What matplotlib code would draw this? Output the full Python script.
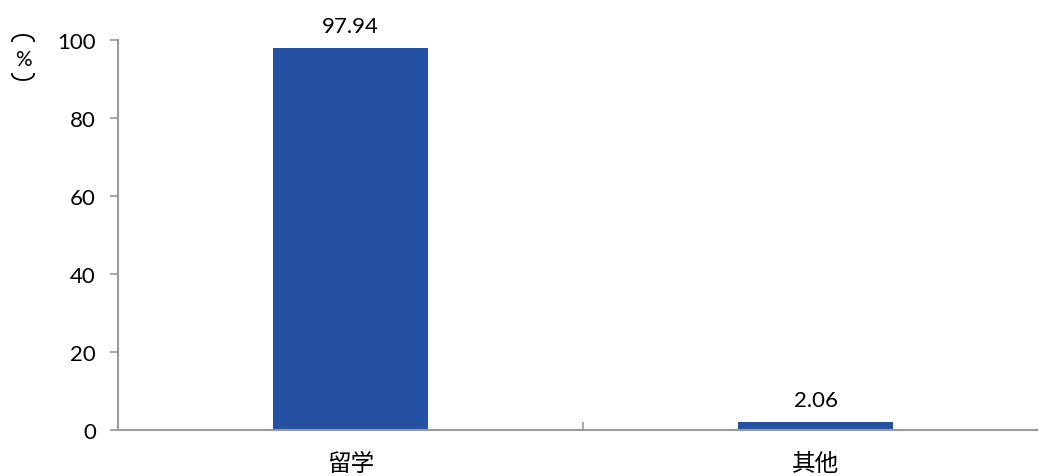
import numpy as np
import matplotlib.pyplot as plt
from matplotlib.lines import Line2D

plt.rcParams['font.family'] = ['Lato', 'Noto Sans CJK SC', 'DejaVu Sans']

categories = ['留学', '其他']
values = [97.94, 2.06]
labels = ['97.94', '2.06']
yticks = [0, 20, 40, 60, 80, 100]

bar_color = '#2451A1'
axis_color = '#9A9A9A'

W, H = 1039, 477
fig = plt.figure(figsize=(W / 100, H / 100), dpi=100)
ax = fig.add_axes([0.1136, 0.0964, 0.8844, 0.8176])

x = list(range(len(categories)))
ax.bar(x, values, width=0.335, color=bar_color, zorder=2)
for xi, v, lab in zip(x, values, labels):
    ax.text(xi, v + 3, lab, ha='center', va='bottom', fontsize=16, color='#000000')

ax.set_xlim(-0.5, len(categories) - 0.524)
ax.set_ylim(0, 100)
ax.set_yticks(yticks)
ax.set_yticklabels([str(t) for t in yticks], fontsize=16)
ax.set_xticks(x)
ax.set_xticklabels(categories, fontsize=17, family=['Noto Sans CJK SC'])
ax.tick_params(axis='x', length=0, pad=16)
ax.tick_params(axis='y', length=6, width=1.2, color=axis_color, pad=10)

# category separator tick
ax.set_xticks([0.5], minor=True)
ax.tick_params(axis='x', which='minor', direction='in', length=6, width=1.2, color=axis_color)

for s in ['top', 'right']:
    ax.spines[s].set_visible(False)
for s in ['left', 'bottom']:
    ax.spines[s].set_color(axis_color)
    ax.spines[s].set_linewidth(1.5)

# vertical "(%)" label: top and bottom brackets drawn as flat arcs
fig.text(23 / W, 1 - 60 / H, '%', ha='center', va='center', fontsize=15)
t = np.linspace(0, np.pi, 30)
ax_x = (23 + 11 * np.cos(t)) / W
top_y = 1 - (42 - 6 * np.sin(t)) / H
bot_y = 1 - (75 + 6 * np.sin(t)) / H
fig.add_artist(Line2D(ax_x, top_y, transform=fig.transFigure, color='black', lw=1.3))
fig.add_artist(Line2D(ax_x, bot_y, transform=fig.transFigure, color='black', lw=1.3))

fig.savefig('out.png', dpi=100)
